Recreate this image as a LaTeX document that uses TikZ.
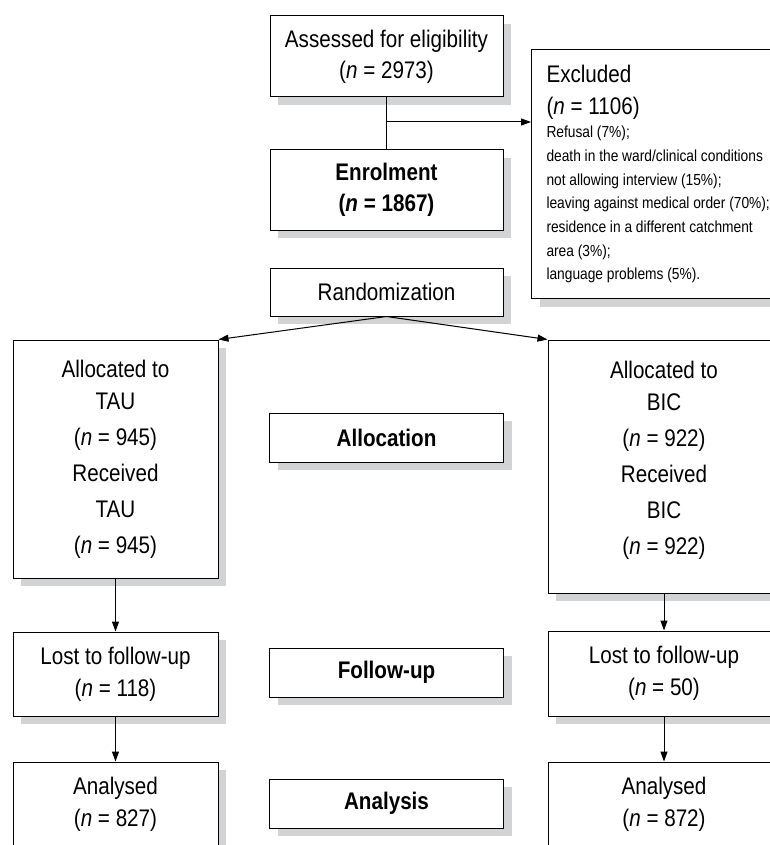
\documentclass[tikz,border=0pt]{standalone}
\usepackage{fontspec}
\setmainfont{Liberation Sans}[FakeStretch=0.86]
\usetikzlibrary{arrows.meta,shadows}
\definecolor{shadowgray}{RGB}{209,211,212}
\newcommand{\nval}{\textit{n}}
\begin{document}
\begin{tikzpicture}[x=1pt,y=-1pt,
    box/.style={draw,fill=white,line width=1pt,inner sep=0pt,align=center,
      font=\fontsize{24}{31}\selectfont,
      drop shadow={shadow xshift=8pt,shadow yshift=-8pt,fill=shadowgray,opacity=1}},
    stage/.style={box,font=\fontsize{24}{31}\selectfont\bfseries,minimum width=234pt,minimum height=49pt},
    arm/.style={box,font=\fontsize{24}{32}\selectfont},
    link/.style={line width=1pt,-{Triangle[length=10pt,width=7pt]}}]
    \useasboundingbox (0,0) rectangle (770,845);
    \clip (0,0) rectangle (770,845);

    \node[box,minimum width=233pt,minimum height=81pt] (assess) at (386.5,56.5)
        {Assessed for eligibility\\(\nval{} = 2973)};
    \node[box,font=\fontsize{24}{31}\selectfont\bfseries,minimum width=233pt,minimum height=80pt]
        (enrol) at (386.5,190) {Enrolment\\(\nval{} = 1867)};
    \node[box,minimum width=233pt,minimum height=48pt] (rand) at (386.5,292) {Randomization};
    \node[box,anchor=north west,minimum width=280pt,minimum height=249pt,text width=250pt,
        align=flush left,inner xsep=15pt] (excl) at (531,49)
        {{\fontsize{24}{32}\selectfont Excluded\\(\nval{} = 1106)\par}
         \fontsize{16}{23.7}\selectfont Refusal (7\%);\\death in the ward/clinical conditions\\
         not allowing interview (15\%);\\leaving against medical order (70\%);\\
         residence in a different catchment\\area (3\%);\\language problems (5\%).\par};

    \node[arm,minimum width=205pt,minimum height=238pt] (allocTAU) at (115.5,459)
        {Allocated to\\TAU\\[4pt](\nval{} = 945)\\[4pt]Received\\[4pt]TAU\\[4pt](\nval{} = 945)};
    \node[arm,minimum width=232pt,minimum height=253pt,text depth=17pt] (allocBIC) at (664,466.5)
        {Allocated to\\BIC\\[4pt](\nval{} = 922)\\[4pt]Received\\[4pt]BIC\\[4pt](\nval{} = 922)};
    \node[arm,minimum width=205pt,minimum height=84pt] (lostTAU) at (115.5,674)
        {Lost to follow-up\\(\nval{} = 118)};
    \node[arm,minimum width=232pt,minimum height=85pt] (lostBIC) at (664,673.5)
        {Lost to follow-up\\(\nval{} = 50)};
    \node[arm,minimum width=205pt,minimum height=84pt] (anaTAU) at (115.5,804)
        {Analysed\\(\nval{} = 827)};
    \node[arm,minimum width=232pt,minimum height=84pt] (anaBIC) at (664,804)
        {Analysed\\(\nval{} = 872)};

    \foreach \name/\y/\txt in {alloc/437.5/Allocation,fup/672.5/Follow-up,ana/803.5/Analysis}
        {\node[stage] (\name) at (386.5,\y) {\txt};}

    \coordinate (split) at (386.5,122);
    \draw[line width=1pt] (assess) -- (enrol);
    \draw[link] (split) -- (split -| excl.west);
    \draw[link] (rand.south) -- (allocTAU.north east);
    \draw[link] (rand.south) -- (allocBIC.north west);
    \draw[link] (allocTAU) -- (lostTAU);
    \draw[link] (lostTAU) -- (anaTAU);
    \draw[link] (allocBIC) -- (lostBIC);
    \draw[link] (lostBIC) -- (anaBIC);
\end{tikzpicture}
\end{document}
